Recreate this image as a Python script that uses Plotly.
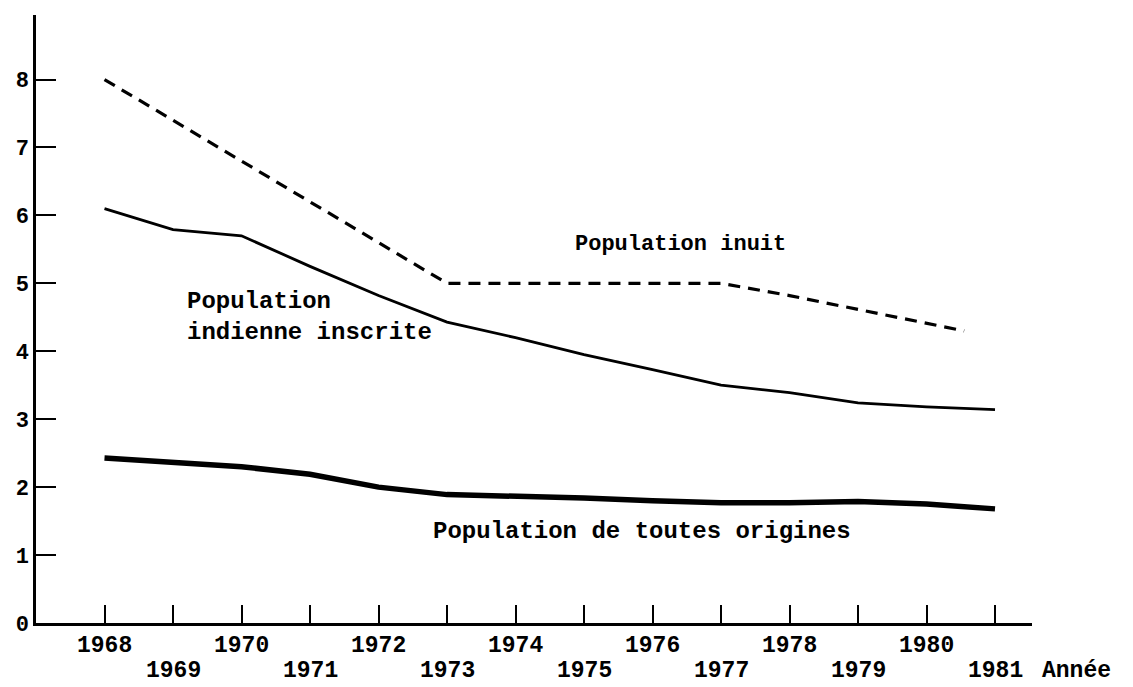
import plotly.graph_objects as go

years = [1968, 1969, 1970, 1971, 1972, 1973, 1974, 1975, 1976, 1977, 1978, 1979, 1980, 1981]
inuit_years = [1968, 1969, 1970, 1971, 1972, 1973, 1974, 1975, 1976, 1977, 1978, 1979, 1980, 1980.55]
inuit = [8.0, 7.4, 6.8, 6.2, 5.6, 5.0, 5.0, 5.0, 5.0, 5.0, 4.82, 4.62, 4.42, 4.3]
indienne = [6.1, 5.79, 5.7, 5.25, 4.82, 4.43, 4.2, 3.95, 3.73, 3.5, 3.39, 3.24, 3.18, 3.14]
toutes = [2.43, 2.36, 2.3, 2.19, 2.0, 1.89, 1.87, 1.84, 1.8, 1.77, 1.77, 1.79, 1.75, 1.68]
year_labels = ["1968", "1969", "1970", "1971", "1972", "1973", "1974", "1975", "1976", "1977", "1978", "1979", "1980", "1981"]
y_ticks = [0, 1, 2, 3, 4, 5, 6, 7, 8]

FONT = "Liberation Mono"


def f(size):
    return dict(family=FONT, size=size, color="black", weight="bold")


fig = go.Figure()
fig.add_trace(go.Scatter(x=inuit_years, y=inuit, mode="lines",
                         line=dict(color="black", width=3.2, dash="12px,8px"),
                         name="Population inuit"))
fig.add_trace(go.Scatter(x=years, y=indienne, mode="lines",
                         line=dict(color="black", width=2.8),
                         name="Population indienne inscrite"))
fig.add_trace(go.Scatter(x=years, y=toutes, mode="lines",
                         line=dict(color="black", width=5.5),
                         name="Population de toutes origines"))

annotations = []
for i, (yr, lab) in enumerate(zip(years, year_labels)):
    annotations.append(dict(x=yr, y=0, xref="x", yref="paper", text=lab,
                            showarrow=False, xanchor="center", yanchor="middle",
                            yshift=-23 if i % 2 == 0 else -48, font=f(23)))
annotations.append(dict(x=1.045, y=0, xref="paper", yref="paper", text="Année",
                        showarrow=False, xanchor="center", yanchor="middle", yshift=-48,
                        font=f(23)))
annotations.append(dict(x=1976.41, y=5.57, xref="x", yref="y", text="Population inuit",
                        showarrow=False, xanchor="center", yanchor="middle", font=f(22)))
annotations.append(dict(x=1969.18, y=4.5, xref="x", yref="y",
                        text="Population<br>indienne inscrite", align="left",
                        showarrow=False, xanchor="left", yanchor="middle", font=f(24)))
annotations.append(dict(x=1975.85, y=1.34, xref="x", yref="y",
                        text="Population de toutes origines",
                        showarrow=False, xanchor="center", yanchor="middle", font=f(24)))

fig.update_layout(
    width=1125, height=679,
    margin=dict(l=28, r=101, t=7, b=64),
    paper_bgcolor="white", plot_bgcolor="white",
    showlegend=False,
    annotations=annotations,
    xaxis=dict(range=[1967.0, 1981.54], tickvals=years, showticklabels=False,
               ticks="inside", ticklen=18, tickwidth=2, tickcolor="black",
               showline=True, linecolor="black", linewidth=2.5,
               showgrid=False, zeroline=False, automargin=False),
    yaxis=dict(range=[0, 8.95], tickvals=y_ticks, ticks="inside", ticklen=20,
               tickwidth=2, tickcolor="black",
               showline=True, linecolor="black", linewidth=2.5,
               showgrid=False, zeroline=False, automargin=False,
               tickfont=f(22)),
)

fig.write_html("out.html")
